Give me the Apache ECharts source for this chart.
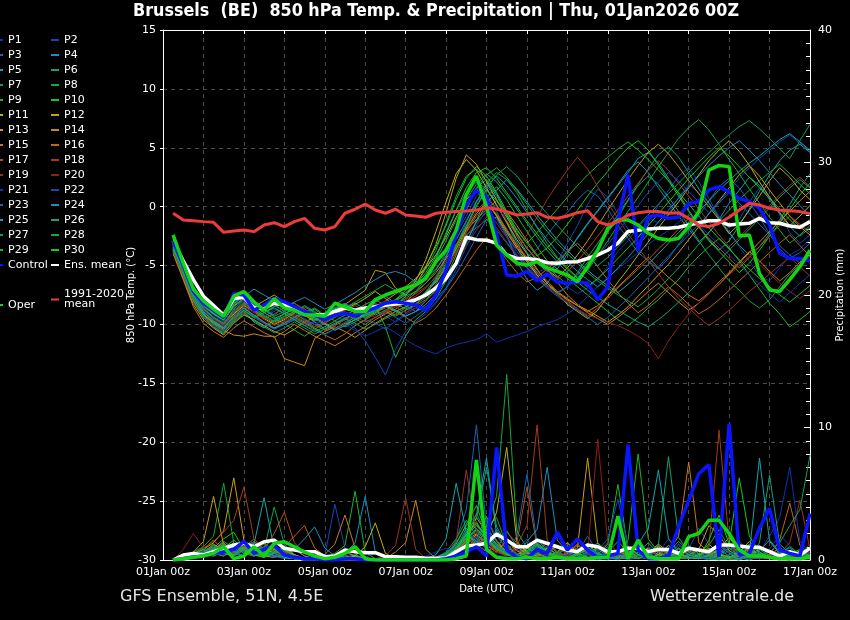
<!DOCTYPE html>
<html><head><meta charset="utf-8">
<script src="https://cdn.jsdelivr.net/npm/echarts@6/dist/echarts.min.js"></script>
<style>html,body{margin:0;padding:0;background:#000;}#c{width:850px;height:620px;}</style>
</head><body><div id="c"></div>
<script>
// forecast hours (6-hourly from 01Jan 06z to 17Jan 00z)
const hours = [6,12,18,24,30,36,42,48,54,60,66,72,78,84,90,96,102,108,114,120,126,132,138,144,150,156,162,168,174,180,186,192,198,204,210,216,222,228,234,240,246,252,258,264,270,276,282,288,294,300,306,312,318,324,330,336,342,348,354,360,366,372,378,384];
const xTickLabels = ['01Jan 00z','03Jan 00z','05Jan 00z','07Jan 00z','09Jan 00z','11Jan 00z','13Jan 00z','15Jan 00z','17Jan 00z'];
const memberNames = ['P1','P2','P3','P4','P5','P6','P7','P8','P9','P10','P11','P12','P13','P14','P15','P16','P17','P18','P19','P20','P21','P22','P23','P24','P25','P26','P27','P28','P29','P30'];

// 850 hPa temperature (°C)
const tempControl = [-2.9,-5.0,-7.2,-8.2,-8.8,-9.4,-7.4,-7.5,-8.8,-8.35,-7.8,-8.07,-8.5,-8.9,-9.2,-9.6,
 -9.2,-9.06,-9.28,-8.9,-8.6,-8.2,-8.07,-8.2,-8.35,-8.8,-7.5,-5.4,-2.3,0.14,1.4,0.8,
 -2.4,-5.8,-5.9,-5.5,-6.3,-5.7,-6.4,-6.5,-6.4,-6.5,-7.9,-6.8,-1.2,2.7,-3.7,-0.85,
 -0.71,-0.99,-0.9,0.28,0.42,1.42,1.7,1.27,0.7,0.42,-0.14,-1.56,-3.96,-4.4,-4.4,-4.6];
const tempMean = [-2.9,-4.6,-6.2,-7.6,-8.4,-9.2,-7.8,-7.7,-8.6,-8.6,-8.2,-8.35,-8.6,-9.0,-9.2,-9.2,
 -8.9,-8.6,-8.8,-8.6,-8.5,-8.35,-8.26,-8.15,-7.9,-7.5,-6.9,-6.1,-4.8,-2.6,-2.8,-2.85,
 -3.1,-4.1,-4.4,-4.4,-4.5,-4.76,-4.8,-4.7,-4.67,-4.4,-4.1,-3.7,-3.1,-2.1,-2.0,-1.9,
 -1.84,-1.84,-1.75,-1.56,-1.36,-1.2,-1.2,-1.56,-1.47,-1.41,-0.99,-1.36,-1.41,-1.64,-1.75,-1.27];
const tempOper = [-2.4,-4.8,-7.0,-8.0,-8.7,-9.3,-7.6,-7.2,-8.07,-8.8,-7.8,-8.6,-8.8,-9.2,-9.2,-9.3,
 -8.2,-8.5,-8.9,-8.9,-7.9,-7.5,-7.2,-6.9,-6.65,-6.1,-4.67,-3.7,-1.98,1.0,2.6,0.0,
 -3.25,-4.1,-4.8,-4.95,-4.67,-5.2,-5.5,-5.8,-6.37,-5.1,-3.7,-1.84,-1.13,-1.13,-1.56,-2.26,
 -2.7,-2.83,-2.7,-1.7,-0.42,3.1,3.5,3.4,-2.5,-2.4,-5.66,-7.07,-7.2,-6.2,-5.1,-3.7];
const tempClim = [-0.56,-1.13,-1.19,-1.27,-1.33,-2.18,-2.07,-1.98,-2.12,-1.55,-1.36,-1.7,-1.27,-0.99,-1.84,-1.98,
 -1.7,-0.56,-0.22,0.23,-0.28,-0.56,-0.22,-0.71,-0.79,-0.9,-0.56,-0.48,-0.42,-0.37,-0.28,-0.1,
 -0.2,-0.42,-0.71,-0.62,-0.51,-0.9,-0.99,-0.79,-0.51,-0.34,-1.27,-1.56,-1.27,-0.71,-0.51,-0.42,
 -0.42,-0.56,-0.51,-0.99,-1.56,-1.7,-1.41,-0.9,-0.28,0.28,0.14,-0.14,-0.28,-0.34,-0.42,-0.6];

const tP01 = [-3.2,-5.1,-7.4,-8.6,-9.3,-9.8,-8.4,-8.0,-8.9,-9.4,-8.7,-9.0,-9.6,-10.1,-9.8,-10.3,
 -9.9,-9.4,-9.7,-9.1,-8.8,-9.3,-9.8,-9.2,-8.6,-8.9,-8.1,-6.9,-4.8,-2.1,-0.6,0.4,
 -0.8,-2.6,-4.1,-4.9,-5.6,-5.2,-6.1,-6.8,-7.4,-6.9,-6.2,-5.1,-3.8,-2.9,-1.7,-0.9,
 -1.4,-0.6,0.8,1.9,1.2,0.3,-0.8,-2.1,-3.4,-4.6,-5.9,-6.3,-5.2,-4.1,-3.6,-2.8];
const tP02 = [-3.6,-5.6,-7.9,-9.1,-9.9,-10.4,-9.2,-8.6,-9.5,-9.0,-8.4,-8.9,-9.3,-9.0,-9.6,-9.2,
 -8.8,-9.5,-10.1,-9.6,-9.9,-10.4,-9.7,-9.1,-8.2,-7.6,-6.0,-4.2,-2.3,-0.8,0.9,1.8,
 0.6,-1.2,-3.4,-5.2,-6.3,-5.9,-4.7,-3.1,-1.6,0.2,1.5,0.8,-0.6,-1.9,-2.6,-1.3,
 0.1,1.4,2.6,3.3,2.1,0.7,-0.9,-1.8,-1.1,0.4,1.6,0.9,-0.7,-2.2,-3.1,-2.4];
const tP03 = [-3.0,-4.8,-7.0,-8.4,-9.0,-9.5,-8.1,-7.5,-8.3,-8.8,-8.2,-8.6,-9.1,-9.6,-10.2,-9.8,
 -9.3,-9.0,-9.4,-8.7,-8.3,-8.9,-9.4,-9.9,-9.3,-8.7,-7.3,-5.6,-3.4,-1.3,0.5,1.1,
 -0.4,-2.1,-3.5,-4.3,-3.6,-2.4,-1.3,-0.5,0.6,1.4,0.9,-0.2,-1.6,-2.7,-3.9,-4.6,
 -5.3,-4.4,-3.2,-2.0,-0.8,0.5,1.7,2.4,1.6,0.4,-0.9,-2.3,-3.6,-4.4,-3.9,-3.1];
const tP04 = [-3.4,-5.3,-7.6,-9.0,-9.6,-10.1,-9.0,-8.3,-8.0,-8.7,-9.2,-8.5,-8.2,-8.8,-9.4,-9.1,
 -8.6,-8.2,-8.9,-9.5,-9.0,-8.4,-8.8,-9.3,-8.9,-8.0,-6.6,-5.0,-3.6,-2.4,-1.8,-1.1,
 -0.9,-2.4,-4.6,-6.2,-7.1,-6.5,-5.3,-4.0,-2.6,-1.4,-0.3,0.8,1.9,3.1,3.8,2.9,
 1.6,0.4,-0.8,-1.9,-3.0,-2.2,-1.1,0.3,1.4,2.5,1.8,0.6,-0.6,-1.7,-2.5,-1.8];
const tP05 = [-3.8,-5.9,-8.1,-9.4,-10.2,-10.8,-9.6,-8.9,-9.8,-10.3,-9.7,-9.1,-8.7,-9.2,-9.8,-10.4,
 -10.0,-9.5,-9.0,-8.6,-8.1,-7.6,-8.2,-8.7,-8.3,-7.4,-6.2,-4.3,-2.1,0.2,1.6,2.3,
 1.1,-0.7,-2.5,-3.9,-4.8,-5.5,-4.9,-3.8,-2.7,-1.5,-0.4,0.7,1.8,2.9,4.1,4.6,
 3.7,2.4,1.1,-0.3,-1.6,-2.8,-3.7,-2.9,-1.6,-0.2,1.3,2.7,3.9,4.8,5.3,4.6];
const tP06 = [-3.1,-4.9,-7.2,-8.7,-9.5,-10.0,-8.7,-7.9,-8.6,-9.2,-9.7,-9.3,-8.9,-8.4,-8.9,-9.5,
 -9.1,-8.6,-8.2,-8.7,-9.2,-8.8,-8.3,-7.8,-7.2,-6.1,-4.4,-2.2,-0.3,1.2,2.1,1.5,
 0.2,-1.4,-3.0,-4.6,-5.8,-6.7,-7.3,-6.8,-5.6,-4.3,-3.1,-1.9,-0.7,0.6,1.9,3.2,
 4.4,5.1,4.2,2.9,1.5,0.3,-1.0,-2.2,-3.3,-4.1,-3.4,-2.3,-1.1,0.2,1.6,2.8];
const tP07 = [-2.8,-4.6,-6.8,-8.2,-9.1,-9.7,-8.3,-7.3,-8.1,-8.6,-9.4,-10.0,-9.6,-9.0,-8.6,-9.2,
 -9.7,-10.2,-9.8,-9.2,-8.7,-8.3,-8.0,-7.4,-6.6,-5.3,-3.7,-1.4,0.9,2.6,3.2,2.2,
 0.9,-0.6,-2.2,-3.6,-4.4,-5.1,-5.9,-6.6,-5.8,-4.7,-3.5,-2.2,-0.9,0.5,1.8,2.6,
 1.9,0.8,-0.4,-1.6,-2.9,-4.1,-5.2,-6.3,-7.1,-8.0,-8.6,-7.9,-6.8,-5.7,-4.9,-4.2];
const tP08 = [-3.5,-5.4,-7.7,-9.3,-10.0,-10.6,-9.8,-9.1,-9.7,-10.2,-9.6,-9.9,-10.5,-11.0,-10.4,-9.9,
 -9.4,-9.0,-9.5,-10.0,-9.4,-8.9,-9.3,-8.8,-8.4,-7.9,-7.1,-6.0,-4.1,-1.9,0.4,2.0,
 2.9,2.3,1.2,-0.3,-1.8,-3.1,-4.3,-5.2,-6.0,-5.4,-4.2,-2.9,-1.6,-0.4,0.8,2.1,
 3.4,4.6,5.8,6.7,7.4,6.5,5.3,4.0,2.8,1.5,0.3,-0.9,-2.0,-3.1,-2.4,-1.6];
const tP09 = [-3.3,-5.2,-7.5,-8.9,-9.7,-10.2,-9.1,-8.5,-9.3,-8.8,-8.3,-8.9,-9.4,-9.8,-10.3,-10.8,
 -10.4,-9.9,-9.4,-8.8,-8.4,-10.2,-12.8,-11.0,-9.6,-8.9,-7.8,-6.3,-4.9,-3.1,-1.2,0.8,
 1.7,0.6,-0.8,-2.1,-3.4,-4.6,-5.3,-6.1,-6.8,-7.5,-8.2,-8.9,-9.6,-10.1,-9.4,-8.6,
 -7.9,-7.0,-6.2,-5.1,-4.2,-3.4,-2.7,-3.5,-4.6,-5.8,-7.0,-8.2,-9.1,-10.2,-9.6,-8.9];
const tP10 = [-3.0,-4.7,-6.9,-8.3,-9.0,-9.4,-8.0,-7.6,-8.4,-9.0,-8.5,-8.0,-8.6,-9.1,-8.7,-9.3,
 -8.9,-8.4,-8.9,-9.4,-9.0,-8.5,-7.9,-7.1,-6.2,-5.0,-3.4,-1.6,0.6,2.4,3.4,2.6,
 1.2,-0.4,-2.0,-3.1,-4.2,-3.5,-2.6,-1.5,-0.3,0.9,2.0,3.0,4.1,5.0,5.6,4.8,
 3.5,2.2,0.9,-0.4,-1.7,-2.9,-3.8,-4.7,-5.6,-4.8,-3.7,-2.5,-1.4,-0.2,1.0,2.0];
const tP11 = [-3.7,-5.8,-8.0,-9.2,-9.8,-10.3,-9.1,-8.4,-8.9,-9.5,-10.0,-9.6,-9.0,-8.7,-9.3,-9.7,
 -9.2,-8.7,-8.3,-7.8,-7.2,-7.8,-8.4,-7.6,-6.3,-4.5,-2.1,0.4,2.8,4.0,3.1,1.6,
 0.1,-1.3,-2.8,-4.0,-5.3,-6.5,-7.4,-8.3,-8.9,-9.5,-8.8,-7.6,-6.4,-5.3,-4.1,-3.0,
 -1.8,-0.7,0.4,1.6,2.7,3.9,4.8,5.6,4.7,3.5,2.1,0.8,-0.5,-1.6,-0.8,0.1];
const tP12 = [-3.3,-5.0,-7.1,-8.5,-9.1,-9.6,-8.4,-7.8,-8.5,-8.0,-7.5,-8.1,-8.7,-9.2,-9.7,-9.3,
 -8.8,-8.3,-7.7,-7.1,-5.4,-5.6,-6.9,-7.5,-6.7,-5.1,-3.2,-0.5,2.4,4.4,3.6,2.1,
 0.6,-0.9,-2.3,-3.5,-4.6,-5.4,-6.0,-5.2,-4.1,-2.9,-1.6,-0.3,1.0,2.3,3.5,4.6,
 5.3,4.5,3.4,2.2,1.1,0.0,-1.1,-2.3,-1.5,-0.3,0.9,2.2,3.3,2.5,1.4,0.6];
const tP13 = [-3.9,-6.1,-8.3,-9.6,-10.3,-10.9,-9.9,-9.2,-9.6,-10.1,-10.6,-10.9,-10.4,-9.8,-9.4,-9.9,
 -10.4,-10.0,-9.6,-9.1,-8.6,-8.0,-7.4,-6.8,-6.1,-5.2,-4.1,-2.6,-0.9,0.6,1.3,0.4,
 -0.8,-2.2,-3.5,-4.7,-5.8,-6.7,-7.3,-7.9,-8.4,-8.8,-9.3,-9.8,-9.2,-8.5,-7.6,-6.7,
 -5.8,-4.9,-3.9,-2.8,-1.7,-0.6,0.5,1.6,2.7,3.5,2.6,1.4,0.3,-0.8,-1.7,-2.4];
const tP14 = [-3.5,-5.5,-7.8,-9.2,-9.9,-10.5,-10.9,-11.0,-10.8,-11.0,-11.0,-12.9,-13.2,-13.5,-11.2,-10.6,
 -10.2,-10.6,-11.1,-10.5,-9.9,-9.4,-8.9,-8.5,-8.0,-7.3,-6.4,-5.2,-3.6,-1.9,-0.6,0.3,
 -0.7,-2.0,-3.3,-4.5,-5.6,-6.5,-7.2,-7.8,-8.4,-9.0,-9.5,-10.0,-9.4,-8.7,-8.0,-7.2,
 -6.5,-7.3,-8.1,-8.8,-8.2,-7.4,-6.6,-5.7,-4.8,-3.9,-3.0,-2.1,-1.2,-0.4,0.5,1.3];
const tP15 = [-4.0,-6.2,-8.5,-9.9,-10.6,-11.1,-10.3,-9.7,-10.2,-10.7,-11.1,-10.6,-10.0,-10.5,-11.0,-11.4,
 -11.8,-11.3,-10.7,-10.2,-9.6,-9.1,-8.7,-8.1,-7.3,-6.5,-5.6,-4.4,-3.2,-2.0,-1.1,-0.2,
 0.5,-0.4,-1.6,-2.9,-4.1,-5.3,-6.4,-7.5,-8.3,-8.9,-8.4,-7.6,-6.8,-6.0,-5.1,-4.3,
 -5.2,-6.0,-6.7,-7.5,-8.0,-7.3,-6.4,-5.6,-4.7,-3.8,-4.6,-5.5,-6.3,-5.6,-4.7,-3.9];
const tP16 = [-3.6,-5.6,-7.8,-9.1,-9.8,-10.2,-9.4,-8.7,-9.2,-9.8,-10.3,-10.0,-9.5,-9.9,-10.4,-10.9,
 -11.3,-10.8,-10.1,-9.6,-9.1,-8.5,-8.9,-9.4,-9.9,-9.4,-8.6,-7.5,-6.3,-5.0,-3.7,-2.6,
 -3.4,-4.5,-5.6,-6.4,-6.0,-5.3,-4.6,-3.8,-3.1,-4.0,-5.1,-6.2,-7.3,-8.2,-9.0,-8.4,
 -7.6,-6.8,-7.5,-8.3,-9.1,-8.6,-7.9,-7.1,-6.3,-5.5,-4.7,-3.9,-3.1,-2.4,-3.3,-4.2];
const tP17 = [-3.2,-5.0,-7.2,-8.6,-9.4,-9.9,-8.8,-8.1,-8.8,-9.4,-9.9,-9.5,-9.1,-9.6,-10.0,-10.5,
 -10.1,-9.6,-9.1,-8.6,-8.2,-8.7,-9.2,-8.8,-8.3,-7.7,-6.8,-5.5,-3.9,-2.2,-0.8,0.2,
 -0.6,-1.9,-3.2,-4.3,-5.4,-6.3,-7.2,-8.0,-8.7,-9.3,-8.6,-7.8,-6.9,-6.1,-5.3,-4.5,
 -3.6,-2.8,-1.9,-1.0,-1.8,-2.7,-3.5,-4.4,-5.2,-4.3,-3.4,-2.5,-1.6,-0.8,-1.5,-2.2];
const tP18 = [-3.4,-5.3,-7.5,-8.8,-9.5,-10.0,-9.0,-8.3,-8.9,-9.5,-9.1,-8.6,-8.2,-8.7,-9.2,-9.7,
 -9.3,-8.8,-8.4,-8.9,-9.4,-9.0,-8.5,-8.1,-7.6,-6.9,-5.9,-4.6,-3.2,-1.7,-0.4,0.6,
 0.0,-1.2,-2.4,-3.5,-4.5,-5.4,-6.2,-5.5,-4.6,-3.6,-2.5,-1.4,-0.3,0.9,2.0,3.1,
 3.9,3.1,2.0,0.9,-0.2,-1.3,-2.4,-3.4,-2.6,-1.7,-0.8,0.1,1.0,1.8,2.5,1.7];
const tP19 = [-3.8,-5.9,-8.1,-9.4,-10.1,-10.6,-9.6,-8.9,-9.4,-9.9,-10.3,-9.8,-9.3,-9.7,-10.2,-9.8,
 -9.3,-8.9,-9.3,-9.8,-9.4,-8.9,-8.4,-7.9,-7.4,-6.8,-6.0,-5.0,-3.8,-2.5,-1.3,-0.5,
 -1.4,-2.6,-3.6,-2.4,-0.9,0.6,1.9,3.1,4.2,3.2,1.7,0.3,-1.0,-2.3,-3.5,-4.6,
 -5.7,-6.8,-7.8,-8.6,-9.4,-10.1,-9.5,-8.8,-8.0,-7.2,-6.5,-5.7,-5.0,-4.3,-5.1,-5.9];
const tP20 = [-3.5,-5.4,-7.6,-8.9,-9.6,-10.1,-9.2,-8.5,-9.0,-9.6,-10.1,-9.7,-9.2,-8.8,-9.3,-9.8,
 -10.3,-9.8,-9.3,-8.8,-8.4,-8.0,-8.5,-9.0,-8.6,-8.0,-7.2,-6.1,-4.7,-3.3,-2.0,-0.9,
 -1.8,-3.0,-4.1,-5.1,-6.0,-6.8,-7.5,-8.1,-8.7,-9.2,-9.5,-9.8,-10.1,-10.5,-11.0,-11.6,
 -12.9,-11.4,-10.2,-9.1,-8.2,-7.4,-6.6,-5.8,-5.0,-4.2,-4.9,-5.7,-6.5,-7.2,-7.8,-7.1];
const tP21 = [-3.3,-5.2,-7.4,-8.8,-9.6,-10.2,-9.3,-8.7,-9.3,-9.9,-10.4,-10.0,-9.5,-10.0,-10.5,-10.9,
 -10.4,-10.0,-10.5,-11.0,-10.6,-10.2,-10.7,-11.3,-11.8,-12.2,-12.5,-12.0,-11.7,-11.5,-11.3,-10.8,
 -11.5,-11.2,-10.9,-10.6,-10.2,-9.9,-9.6,-9.1,-8.5,-7.6,-6.8,-6.0,-5.3,-4.6,-3.9,-3.2,
 -2.6,-2.0,-1.3,-0.7,-1.5,-2.4,-3.2,-4.1,-4.9,-5.8,-6.6,-7.4,-8.1,-7.3,-6.5,-5.8];
const tP22 = [-3.1,-4.9,-7.1,-8.5,-9.2,-9.7,-8.6,-8.0,-8.7,-9.3,-8.9,-8.4,-8.9,-9.5,-10.0,-9.6,
 -9.2,-9.7,-10.3,-11.4,-12.8,-14.3,-12.1,-10.6,-9.8,-9.1,-8.2,-7.0,-5.3,-3.4,-1.6,-0.3,
 -1.1,-2.5,-3.8,-4.9,-5.9,-6.7,-7.4,-6.8,-6.0,-5.1,-4.2,-3.2,-2.1,-1.0,0.1,1.2,
 2.1,2.9,2.2,1.3,0.4,-0.5,0.4,1.4,2.4,3.3,4.1,4.8,5.5,6.1,5.4,4.7];
const tP23 = [-3.6,-5.7,-7.9,-9.3,-10.0,-10.5,-9.5,-8.8,-9.3,-9.9,-10.4,-10.0,-9.6,-10.1,-9.7,-9.2,
 -8.7,-8.2,-8.7,-9.2,-8.8,-8.3,-7.9,-8.4,-8.9,-8.5,-7.8,-6.9,-5.7,-4.2,-2.6,-1.1,
 -2.0,-3.1,-4.2,-5.2,-6.1,-6.9,-7.6,-8.2,-8.8,-9.4,-10.0,-9.4,-8.6,-7.8,-6.9,-6.0,
 -5.1,-4.2,-3.3,-2.4,-1.5,-0.6,0.3,1.2,0.3,-0.6,-1.5,-2.4,-3.3,-4.1,-4.8,-4.2];
const tP24 = [-3.0,-4.8,-6.9,-8.3,-9.0,-9.4,-8.3,-7.6,-7.0,-7.5,-8.0,-8.5,-8.1,-7.7,-8.2,-8.7,
 -8.3,-7.8,-7.3,-6.7,-6.2,-5.7,-5.5,-5.8,-6.4,-6.0,-5.3,-4.2,-2.8,-1.2,0.4,1.7,
 2.6,1.8,0.7,-0.5,-1.7,-2.8,-3.8,-4.7,-5.5,-6.2,-6.8,-6.1,-5.2,-4.3,-3.3,-2.3,
 -1.3,-0.3,0.7,1.7,2.6,3.5,4.3,5.0,5.6,4.8,3.9,2.9,1.9,1.0,0.1,-0.8];
const tP25 = [-3.4,-5.3,-7.5,-8.9,-9.7,-10.3,-9.3,-8.6,-9.2,-9.8,-10.3,-9.9,-9.4,-9.0,-9.5,-10.0,
 -10.5,-10.1,-9.6,-9.2,-8.7,-8.3,-8.8,-9.3,-8.9,-8.3,-7.4,-6.2,-4.7,-3.0,-1.3,0.2,
 1.4,2.3,1.5,0.4,-0.7,-1.8,-2.8,-3.7,-4.6,-5.4,-6.1,-6.7,-7.3,-6.6,-5.8,-4.9,
 -4.0,-3.1,-2.2,-1.3,-0.4,0.5,1.4,2.2,3.0,3.7,4.3,5.0,5.7,6.2,5.5,4.8];
const tP26 = [-2.9,-4.6,-6.7,-8.1,-8.9,-9.4,-8.2,-7.5,-8.2,-8.8,-9.3,-8.9,-8.4,-8.9,-9.4,-9.0,
 -8.6,-9.1,-9.6,-9.2,-8.8,-8.4,-8.0,-7.5,-6.8,-5.8,-4.5,-2.9,-1.1,0.6,1.9,2.8,
 2.1,1.0,-0.2,-1.4,-2.6,-3.7,-4.7,-5.6,-6.4,-7.1,-7.7,-8.3,-8.8,-9.3,-9.8,-10.2,
 -9.6,-8.9,-8.1,-7.3,-6.4,-5.5,-4.6,-3.7,-2.8,-1.9,-1.0,-0.1,0.8,1.6,2.3,1.6];
const tP27 = [-3.7,-5.8,-8.0,-9.4,-10.2,-10.7,-9.7,-9.0,-9.6,-10.2,-10.7,-10.3,-9.8,-10.3,-10.8,-10.4,
 -9.9,-9.5,-9.9,-10.4,-10.0,-9.5,-9.1,-8.6,-8.0,-7.2,-6.1,-4.8,-3.3,-1.6,0.1,1.5,
 2.7,3.4,2.6,1.5,0.4,-0.6,-1.6,-2.5,-3.4,-4.2,-5.0,-4.3,-3.4,-2.5,-1.6,-0.7,
 0.2,1.1,2.0,2.9,3.8,4.6,5.4,6.1,6.8,7.3,6.6,5.8,4.9,4.1,5.6,7.0];
const tP28 = [-3.2,-5.0,-7.3,-8.7,-9.4,-9.9,-8.9,-8.2,-8.8,-9.3,-9.8,-9.4,-8.9,-8.5,-9.0,-9.5,
 -9.1,-8.6,-8.1,-7.6,-7.1,-6.6,-7.1,-7.6,-7.2,-6.5,-5.4,-3.9,-2.2,-0.3,1.5,2.7,
 3.3,2.5,1.4,0.2,-1.0,-2.1,-3.1,-4.0,-4.8,-5.6,-6.3,-6.9,-7.5,-8.0,-8.5,-7.8,
 -7.0,-6.1,-5.2,-4.2,-3.2,-2.2,-1.2,-0.3,0.6,1.4,2.2,2.9,3.6,2.8,1.9,1.1];
const tP29 = [-3.5,-5.5,-7.7,-9.1,-9.8,-10.4,-9.5,-8.8,-9.4,-9.0,-8.6,-9.1,-9.6,-10.1,-10.6,-10.2,
 -9.7,-9.2,-8.8,-8.3,-7.9,-8.4,-8.9,-8.5,-8.0,-7.3,-6.3,-5.0,-3.4,-1.7,0.0,1.4,
 0.5,-0.7,-1.9,-3.1,-2.2,-1.2,-0.2,0.8,1.8,2.7,3.5,4.2,4.9,5.5,4.8,4.0,
 3.1,2.2,1.2,0.2,-0.8,-1.8,-2.7,-3.6,-4.5,-5.3,-6.1,-6.8,-7.5,-8.1,-7.4,-6.7];
const tP30 = [-3.0,-4.7,-6.9,-8.4,-9.1,-9.6,-8.5,-7.8,-8.4,-9.0,-9.5,-9.1,-8.6,-9.1,-9.6,-9.2,
 -8.7,-8.3,-8.8,-9.3,-8.9,-8.4,-7.9,-7.3,-6.6,-5.6,-4.2,-2.4,-0.3,1.6,2.9,3.3,
 2.4,1.2,0.0,-1.2,-2.3,-3.4,-4.4,-5.3,-6.1,-6.8,-6.1,-5.3,-4.4,-3.5,-2.6,-1.6,
 -0.6,0.4,1.4,2.4,3.3,4.2,5.0,4.3,3.4,2.5,1.6,0.7,-0.2,-1.1,-1.9,-1.1];

// 6-hourly precipitation (mm)
const precControl = [0,0.1,0.2,0.3,0.5,0.6,0.8,1.4,0.5,0.8,1.1,0.4,0.2,0.1,0.1,0,
 0,0.1,0.1,0,0,0,0,0,0,0,0,0.1,0.3,0.6,1.0,0.3,
 8.5,0.75,0.2,0.1,0.8,0.5,2.1,0.75,1.6,0.75,0.2,0.3,0.5,8.7,0.75,0.1,
 0.1,0.3,2.5,4.5,6.5,7.2,0.25,10.3,0.4,0.5,2.4,3.9,0.75,0.5,0.3,3.5];
const precMean = [0,0.38,0.5,0.38,0.63,0.88,1.13,1.26,1.0,1.38,1.5,0.88,0.75,0.63,0.63,0.25,
 0.3,0.75,0.63,0.55,0.55,0.25,0.25,0.2,0.2,0.13,0.13,0.13,0.63,1.06,1.13,1.26,
 1.96,1.5,1.0,1.0,1.5,1.26,1.0,0.75,0.63,1.13,1.0,0.63,0.63,0.88,0.88,0.63,
 0.8,0.8,0.5,0.88,0.75,0.63,1.13,1.13,1.06,0.96,0.96,0.63,0.3,0.63,0.38,0.88];
const precOper = [0,0.1,0.2,0.3,0.5,1.0,0.1,0.3,1.0,0.3,1.26,1.38,1.0,0.6,0.3,0.1,
 0.2,0.5,1.0,0.1,0,0,0,0,0,0,0,0,0.1,0.3,7.55,0.8,
 0.2,0.1,0.1,0.2,0.1,0.1,0.2,0.1,0.1,0.1,0.2,0.2,3.3,0.1,1.5,0.2,
 0.1,0.1,0.1,1.76,2.0,3.0,3.0,2.0,0.75,0.3,0.3,0.2,0.1,0.1,0.1,0.2];

const rP01 = [0,0.1,0.3,0.6,0.9,0.4,1.2,0.8,0.3,0.5,0.9,0.4,0.2,0.1,0,0, 0.2,0.4,0.1,0,0,0,0,0,0.1,0,0,0.2,0.6,1.4,2.2,1.6, 0.8,1.2,0.5,0.3,1.1,0.6,0.2,0.4,0.9,0.3,0.1,0,0.2,0.7,0.4,0.2, 0.5,1.6,0.8,0.3,0.1,0.4,1.3,0.6,0.2,0,0.3,0.8,1.9,1.1,0.4,0.2];
const rP02 = [0,0.2,0.4,0.3,0.7,1.1,0.5,0.9,1.4,0.6,0.3,0.8,0.2,0,0.1,0.3, 4.2,0.9,0.2,0,0,0.1,0,0,0,0,0.1,0.4,1.1,0.7,1.9,2.6, 1.3,0.5,0.8,1.6,0.4,0.2,0.1,0.6,1.2,0.5,0.2,0.9,0.3,0,0.2,1.0, 0.6,0.2,0.1,0.8,2.4,1.2,0.4,0.1,0,0.3,0.9,0.5,0.1,0,0.4,1.2];
const rP03 = [0,0.1,0.2,0.5,0.3,0.8,1.3,0.6,0.4,1.0,0.7,0.3,0.1,0,0,0.2, 0.1,0,0.3,0.1,0,0,0,0.2,0,0,0,0.3,1.5,3.8,10.2,2.4, 1.1,0.6,0.3,0.9,1.5,0.7,0.2,0.1,0.5,1.8,0.6,0.2,0,0.3,0.6,0.2, 0.1,0.4,1.2,0.5,0.2,0,0.3,0.7,1.4,0.6,0.2,0.1,0.5,0.9,0.3,0.1];
const rP04 = [0,0.2,0.5,0.9,0.6,0.3,0.8,1.5,0.7,0.4,0.2,0.5,0.9,0.3,0.1,0, 0.2,0.5,1.3,4.8,0.6,0.1,0,0,0,0.1,0,0.2,0.8,2.1,1.4,0.9, 2.3,1.0,0.4,0.2,0.6,1.3,0.5,0.2,0.1,0.4,0.8,0.3,0.1,0.5,1.1,0.4, 0.2,0.1,0.6,1.0,0.4,0.1,0,0.2,0.5,0.9,0.3,0.1,0,0.2,0.6,0.3];
const rP05 = [0,0.1,0.3,0.2,0.8,1.4,0.9,0.5,1.2,4.7,0.8,0.3,0.1,0,0,0.1, 0,0.2,0,0,0.1,0,0,0,0,0,0.1,0.5,1.3,2.6,3.4,7.7, 1.9,0.8,0.3,1.1,0.6,0.2,0.4,0.9,0.3,0.1,0,0.2,0.6,0.3,0.1,0.4, 1.0,0.5,0.2,0.1,0.4,0.8,0.3,0.1,0,0.3,0.7,1.5,0.6,0.2,0.1,0.3];
const rP06 = [0,0.1,0.2,0.4,0.3,0.6,0.4,1.0,0.5,0.3,0.8,0.4,0.2,0,0,0, 0.1,0,0,0.2,0,0,0,0.1,0,0,0,0.4,0.9,2.2,3.1,7.0, 2.5,1.2,0.4,0.2,0.7,1.4,0.6,0.3,0.1,0.5,0.9,0.4,0.2,0.1,0.6,1.3, 0.5,0.2,0.1,0.4,0.8,0.3,0.1,0,0.2,0.5,0.2,0.1,0.3,0.7,0.3,0.1];
const rP07 = [0,0.2,0.4,0.7,1.1,0.6,0.3,0.9,1.6,0.8,4.0,1.2,0.4,0.1,0,0.2, 0.4,0.1,0,0,0.1,0,0,0,0.1,0,0,0.3,0.7,1.8,2.9,1.5, 0.8,2.2,1.0,0.4,0.2,0.6,1.1,0.5,0.2,0.7,0.3,0.1,0.4,0.9,0.4,0.2, 0.1,0.3,0.8,0.4,0.2,1.1,2.3,0.9,0.3,0.1,0.5,0.2,0.1,0,0.3,0.6];
const rP08 = [0,0.3,0.6,1.0,1.8,5.8,1.3,0.6,0.4,0.9,0.5,0.2,0.1,0,0.1,0, 0,0.2,0.4,0.1,0,0,0,0,0,0,0.2,0.6,1.6,3.0,1.8,2.5, 3.2,1.1,0.5,0.3,0.9,0.4,0.2,0.1,0.6,1.2,0.5,0.2,0.1,0.3,0.8,0.4, 0.2,0.6,1.4,0.7,0.3,0.1,0,0.2,0.5,0.3,0.1,0.4,0.9,0.5,0.2,0.1];
const rP09 = [0,0.1,0.2,0.6,0.4,0.9,0.5,0.3,0.7,1.3,0.6,0.3,0.1,0,0,0.2, 0.5,1.1,5.2,0.6,0.1,0,0,0,0,0.1,0,0.2,0.9,2.4,1.6,3.3, 1.4,0.6,0.3,0.8,1.6,0.7,0.3,0.1,0.4,0.9,0.4,1.2,5.7,0.8,0.3,0.1, 0.4,0.9,0.4,0.2,0.1,0.5,1.1,0.5,0.2,0,0.3,0.7,0.3,0.1,0,0.2];
const rP10 = [0,0.2,0.5,0.3,0.9,1.6,2.1,0.8,0.4,0.6,1.1,0.5,0.2,0.1,0,0, 0.1,0.3,0.1,0,0,0,0,0.1,0,0,0.1,0.5,1.2,2.7,4.1,2.0, 1.0,0.5,1.3,0.6,0.2,0.1,0.5,1.0,0.4,0.2,0.1,0.6,1.4,0.6,0.2,0.1, 0.3,0.7,0.3,0.1,0.5,1.2,0.5,0.2,0.1,0.4,0.8,0.3,0.1,0,0.2,0.5];
const rP11 = [0,0.1,0.3,0.5,1.2,0.7,0.4,1.0,0.6,0.3,0.2,0.7,0.4,0.1,0,0.1, 0.2,0.6,0.3,1.0,2.8,0.5,0.1,0,0,0,0.1,0.3,0.8,1.9,2.6,1.8, 3.6,8.5,1.4,0.6,0.3,0.9,0.4,0.2,0.1,0.5,1.0,0.4,0.2,0.7,0.3,0.1, 0.4,1.1,0.5,0.2,0.1,0.3,0.8,1.7,0.7,0.3,0.1,0.4,0.9,0.4,0.2,0.1];
const rP12 = [0,0.2,0.6,1.4,4.8,1.1,0.5,0.8,0.3,0.6,1.0,0.4,0.2,0,0.1,0, 0,0.1,0.3,0.1,0,0,0.1,0,0,0,0,0.2,0.6,1.5,3.2,2.1, 1.2,0.7,0.3,0.9,0.5,0.2,0.6,1.3,0.5,0.2,0.1,0.4,0.8,0.3,0.1,0.5, 1.2,0.6,0.2,0.1,0.4,0.9,0.4,0.2,0.6,1.4,0.6,0.2,0.1,0.3,0.7,0.3];
const rP13 = [0,0.1,0.4,0.8,1.3,2.2,6.2,1.5,0.7,0.4,0.8,0.3,0.1,0,0,0.1, 0.3,0.1,0,0,0.1,0,0,0,0,0.1,0,0.3,0.7,1.4,2.0,1.1, 0.6,1.5,0.7,0.3,0.2,0.5,1.1,0.6,0.9,7.7,1.2,0.5,0.2,0.1,0.4,0.9, 0.4,0.2,0.1,0.3,0.8,2.6,1.9,0.7,0.3,0.1,0.4,0.2,0.1,0.3,0.6,0.2];
const rP14 = [0,0.2,0.3,0.6,0.9,0.5,1.1,0.7,0.4,0.2,0.6,0.9,0.4,0.1,0,0, 0.1,0.2,0,0,0,0.1,0.6,1.3,4.5,0.8,0.1,0.2,0.5,1.2,1.9,1.4, 0.7,0.3,1.0,0.5,0.2,0.1,0.6,1.3,0.5,0.2,0.1,0.3,0.7,0.3,0.1,0.4, 1.0,0.5,0.2,0.1,0.3,0.6,0.3,0.1,0.4,0.9,0.4,0.2,0.1,0.3,0.2,0.1];
const rP15 = [0,0.1,0.3,0.5,0.8,1.3,0.6,0.3,0.9,0.5,0.2,0.4,0.8,0.3,0.1,0.4, 1.2,3.4,0.9,0.2,0,0,0,0,0.1,0,0,0.2,0.8,1.6,1.1,2.3, 1.5,0.6,0.3,1.0,0.4,0.2,0.1,0.5,1.1,0.5,0.2,0.1,0.4,0.9,0.4,0.2, 0.1,0.6,1.8,7.4,1.3,0.5,0.2,0.1,0.4,0.8,0.3,0.1,0.2,0.6,0.3,0.1];
const rP16 = [0,0.2,0.4,0.8,1.5,0.7,0.4,1.2,0.6,0.3,0.5,1.0,1.8,2.6,0.9,0.3, 0.1,0,0,0.1,0,0,0,0,0,0,0.1,0.4,0.9,1.7,1.2,0.6, 1.1,0.5,0.2,0.6,1.3,0.6,0.3,0.1,0.4,0.9,0.4,0.2,0.1,0.5,1.0,0.5, 0.2,0.1,0.3,0.7,0.3,0.1,0.5,1.1,0.5,0.2,0.1,0.4,1.5,4.3,1.1,0.4];
const rP17 = [0,0.1,0.2,0.4,0.7,1.2,0.6,0.9,1.4,0.8,2.0,3.6,1.3,0.5,0.2,0, 0.1,0,0,0,0.1,0,0,0,0,0,0,0.2,0.7,1.3,0.9,1.8, 0.9,2.1,1.3,5.5,1.0,0.4,0.2,0.6,1.2,0.5,0.2,0.1,0.3,0.8,0.4,0.2, 0.1,0.4,0.9,0.4,0.2,0.1,0.6,1.3,0.5,0.2,0.1,0.3,0.7,0.3,0.1,0.2];
const rP18 = [0,0.2,0.5,0.9,1.4,2.1,3.0,5.5,1.6,0.7,0.3,0.6,0.2,0,0,0, 0.2,0.4,0.1,0,0,0,0,0,0,0,0.1,0.3,0.8,1.6,2.2,1.3, 0.7,0.4,1.1,2.6,10.2,1.5,0.6,0.3,0.8,0.4,0.2,0.1,0.5,1.0,0.4,0.2, 0.1,0.3,0.8,0.4,0.2,1.0,9.8,1.4,0.5,0.2,0.1,0.4,0.9,0.4,0.1,0.1];
const rP19 = [0,0.1,0.3,0.6,0.4,0.9,0.5,0.3,0.7,1.2,0.6,0.3,0.1,0,0,0, 0,0.1,0,0,0.1,0.3,1.1,4.7,0.8,0.1,0,0.3,1.4,6.8,2.0,1.2, 0.6,0.3,0.8,0.4,0.2,0.5,1.0,0.4,0.2,0.1,0.6,1.3,0.6,0.2,0.1,0.3, 0.7,0.3,0.1,0.4,0.9,0.4,0.2,0.1,0.3,0.6,0.2,0.1,0.5,1.3,4.5,0.8];
const rP20 = [0,0.8,2.0,0.9,0.5,0.3,0.8,1.3,0.6,0.3,0.5,0.2,0.1,0,0,0, 0.1,0,0,0,0,0,0,0.1,0,0,0,0.2,0.6,1.1,1.8,0.9, 0.5,1.2,0.5,0.2,0.6,1.1,0.4,0.2,0.1,0.5,9.1,1.3,0.5,0.2,0.1,0.4, 0.8,0.4,0.2,0.1,0.3,0.7,0.3,0.1,0.2,0.5,1.1,0.5,0.2,0.1,0.3,0.6];
const rP21 = [0,0.1,0.2,0.3,0.6,0.4,0.8,0.5,0.3,0.7,0.4,0.2,0.1,0,0,0, 0,0.1,0,0,0,0,0,0,0.1,0.3,0.6,0.9,0.5,0.8,1.2,0.7, 0.4,0.2,0.1,0.3,0.6,0.3,0.1,0,0.2,0.5,0.2,0.1,0.4,0.8,0.3,0.1, 0.2,0.5,1.1,0.5,0.2,0.1,0.4,0.9,0.4,0.2,0.6,1.8,3.2,7.0,1.4,0.5];
const rP22 = [0,0.2,0.4,0.7,0.4,1.0,0.6,0.3,0.8,0.5,0.2,0.4,0.1,0,0,0.1, 0.3,0.1,0,0.2,0.5,0.1,0,0,0,0,0.1,0.4,1.0,2.2,1.5,3.1, 1.8,0.8,0.3,0.6,1.2,0.5,0.2,0.4,0.9,0.4,0.7,1.6,4.6,1.0,0.4,0.2, 0.1,0.4,0.8,0.3,0.1,0.5,1.2,0.6,0.2,0.1,0.3,0.7,0.3,0.1,0.2,0.5];
const rP23 = [0,0.1,0.3,0.5,0.9,0.5,0.3,0.7,1.1,0.6,0.3,0.1,0.2,0,0,0, 0.1,0,0,0,0,0,0,0,0,0.1,0,0.3,0.9,1.8,2.7,1.9, 1.0,0.5,1.8,6.5,1.3,0.6,0.3,0.1,0.5,1.0,0.4,0.2,0.1,0.6,1.2,0.5, 0.2,0.1,0.4,0.8,0.3,0.1,0.5,1.1,0.5,0.2,0.1,0.3,0.6,0.2,0.1,0.3];
const rP24 = [0,0.2,0.4,0.3,0.7,1.1,0.6,0.9,0.4,0.2,0.6,1.0,0.8,1.6,2.5,0.9, 0.3,0.1,0,0,0,0,0,0,0,0,0.2,0.5,1.1,1.9,1.3,2.2, 1.1,0.6,0.3,1.4,2.3,7.0,1.5,0.6,0.3,0.1,0.5,1.0,0.4,0.2,0.1,0.4, 0.9,0.4,0.2,0.1,0.3,0.7,0.3,0.1,0.6,1.2,0.5,0.2,0.1,0.3,0.6,0.3];
const rP25 = [0,0.1,0.3,0.6,1.0,0.5,0.3,0.8,1.3,0.7,0.3,0.2,0.1,0,0,0, 0.1,0.2,0,0,0,0,0,0,0,0.1,0.4,1.6,5.8,2.1,1.2,1.7, 0.8,0.4,0.2,0.6,1.1,0.5,0.2,0.1,0.4,0.9,0.4,0.2,0.1,0.5,1.2,2.4, 6.8,1.6,0.6,0.2,0.1,0.4,0.8,0.3,0.1,0.5,7.7,1.4,0.5,0.2,0.1,0.3];
const rP26 = [0,0.2,0.4,0.8,0.5,0.3,0.9,1.4,0.7,0.3,0.5,0.2,0.1,0,0,0.1, 0,0,0.1,0,0,0,0,0,0,0,0.1,0.3,0.7,1.5,2.4,1.6, 0.9,0.4,0.2,0.7,1.3,0.6,0.2,0.1,0.4,0.8,0.3,0.1,0.5,1.0,0.4,0.2, 1.1,7.8,1.7,0.6,0.2,0.1,0.4,0.9,0.4,0.2,1.3,6.4,1.2,0.5,0.2,0.1];
const rP27 = [0,0.1,0.2,0.5,0.8,1.2,0.6,0.3,0.7,1.0,1.6,0.7,0.3,0.1,0,0, 0.2,0.1,0,0,0,0.1,0,0,0,0,0,0.2,0.8,1.7,3.5,2.0, 1.2,0.6,0.3,0.1,0.5,1.0,0.4,0.2,0.1,0.6,1.3,0.6,0.2,0.1,0.4,0.8, 0.3,0.1,0.5,1.1,0.5,0.2,0.1,0.4,0.9,0.4,0.2,0.6,1.3,2.6,3.8,7.9];
const rP28 = [0,0.2,0.3,0.6,1.1,0.6,0.4,0.9,0.5,0.3,0.7,0.4,0.2,0,0.1,0, 0.1,0,0.2,0,0,0,0,0,0,0.1,0,0.3,1.0,2.0,1.4,2.6, 4.8,14.0,2.2,0.9,0.4,0.2,0.6,1.1,0.5,0.2,0.1,0.4,0.8,0.3,0.1,0.5, 1.1,0.5,0.2,0.1,0.3,0.7,0.3,0.1,0.5,1.0,0.4,0.2,0.1,0.3,0.6,0.2];
const rP29 = [0,0.1,0.3,0.4,0.9,0.6,1.1,0.5,0.3,0.6,0.9,0.4,0.2,0.1,0,0, 0,0.2,0.1,0,0,0,0,0,0.1,0,0.1,0.4,0.9,1.6,2.3,1.5, 0.8,0.4,0.2,0.5,1.0,0.5,0.2,0.1,0.6,1.2,0.5,0.2,0.4,1.5,8.0,1.6, 0.6,0.2,0.1,0.4,0.8,0.4,0.2,0.1,0.3,0.7,0.3,0.1,0.5,1.0,0.4,0.2];
const rP30 = [0,0.2,0.5,0.8,0.4,0.9,1.5,0.8,0.4,0.2,0.5,0.8,0.3,0.1,0,0.1, 0.2,0.1,0,0,0,0,0,0.1,0,0,0,0.3,0.8,1.9,2.8,1.7, 0.9,0.5,0.2,0.7,1.2,0.6,0.3,0.1,0.4,0.8,0.3,0.1,0.5,1.0,0.4,0.2, 0.1,0.4,0.9,0.4,0.2,1.5,3.4,1.2,6.2,1.8,0.6,0.2,0.1,0.4,0.8,0.3];

const tempMembers = [tP01,tP02,tP03,tP04,tP05,tP06,tP07,tP08,tP09,tP10,tP11,tP12,tP13,tP14,tP15,tP16,tP17,tP18,tP19,tP20,tP21,tP22,tP23,tP24,tP25,tP26,tP27,tP28,tP29,tP30];
const precMembers = [rP01,rP02,rP03,rP04,rP05,rP06,rP07,rP08,rP09,rP10,rP11,rP12,rP13,rP14,rP15,rP16,rP17,rP18,rP19,rP20,rP21,rP22,rP23,rP24,rP25,rP26,rP27,rP28,rP29,rP30];

// styling
const palette = ['#0b35b0','#1048b8','#1566b5','#1b8ec2','#17a3ad','#14a07c','#139f57','#14a83e','#1db42a','#16c916',
                 '#b5b516','#bfa116','#c99f15','#c98b15','#c97716','#bf6414','#b65114','#a23d16','#983426','#8c1f1f'];

function pairs(arr){ return arr.map((v,i)=>[hours[i], v]); }

const series = [];
memberNames.forEach((n,i)=>{
  const c = palette[i % 20];
  series.push({name:n,type:'line',xAxisIndex:0,yAxisIndex:0,data:pairs(tempMembers[i]),symbol:'none',silent:true,
    lineStyle:{width:1,color:c},itemStyle:{color:c},z:2});
  series.push({name:n,type:'line',xAxisIndex:0,yAxisIndex:1,data:pairs(precMembers[i]),symbol:'none',silent:true,
    lineStyle:{width:1,color:c},itemStyle:{color:c},z:2});
});
const thick = [
  ['Ens. mean', tempMean, precMean, '#ffffff'],
  ['Control', tempControl, precControl, '#0a14ff'],
  ['Oper', tempOper, precOper, '#14d214']
];
thick.forEach(([n,t,p,c])=>{
  series.push({name:n,type:'line',xAxisIndex:0,yAxisIndex:0,data:pairs(t),symbol:'none',silent:true,
    lineStyle:{width:3.5,color:c},itemStyle:{color:c},z:3});
  series.push({name:n,type:'line',xAxisIndex:0,yAxisIndex:1,data:pairs(p),symbol:'none',silent:true,
    lineStyle:{width:3.5,color:c},itemStyle:{color:c},z:3});
});
series.push({name:'1991-2020 mean',type:'line',xAxisIndex:0,yAxisIndex:0,data:pairs(tempClim),symbol:'none',silent:true,
  lineStyle:{width:3,color:'#ee3c3c'},itemStyle:{color:'#ee3c3c'},z:4});

const FONT = 'DejaVu Sans';
const legendBase = {orient:'vertical',icon:'rect',itemWidth:8,itemHeight:2,itemGap:2,selectedMode:false,padding:0,
  textStyle:{color:'#ffffff',fontSize:11,fontFamily:FONT,lineHeight:13}};
const col1 = [], col2 = [];
memberNames.forEach((n,i)=>{ (i%2===0?col1:col2).push(n); });
col1.push('Control'); col2.push('Ens. mean');

const option = {
  backgroundColor:'#000000',
  animation:false,
  textStyle:{fontFamily:FONT},
  title:{text:'Brussels  (BE)  850 hPa Temp. & Precipitation | Thu, 01Jan2026 00Z',left:133,top:2,padding:0,
    textStyle:{color:'#ffffff',fontSize:17.8,fontWeight:'bold',fontFamily:'DejaVu Sans Condensed, DejaVu Sans'}},
  legend:[
    Object.assign({},legendBase,{data:col1,left:-5,top:33.5}),
    Object.assign({},legendBase,{data:col2,left:51,top:33.5}),
    Object.assign({},legendBase,{data:['Oper'],left:-5,top:298.5}),
    Object.assign({},legendBase,{data:['1991-2020 mean'],left:51,top:289,
      formatter:()=>'1991-2020\nmean',textStyle:{color:'#ffffff',fontSize:11,fontFamily:FONT,lineHeight:10}})
  ],
  grid:{left:163,right:40,top:30,bottom:60,containLabel:false,outerBoundsMode:'none'},
  xAxis:[
    {type:'value',min:0,max:384,interval:24,position:'bottom',
     name:'Date (UTC)',nameLocation:'middle',nameGap:24,nameMoveOverlap:false,nameTextStyle:{color:'#ffffff',fontSize:10,fontFamily:FONT},
     axisLine:{show:true,onZero:false,lineStyle:{color:'#ffffff',width:1}},
     axisTick:{show:true,inside:true,length:4,lineStyle:{color:'#ffffff'}},
     axisLabel:{color:'#ffffff',fontSize:11,margin:7,fontFamily:FONT,
       formatter:(v)=> (v%48===0 ? xTickLabels[v/48] : '')},
     splitLine:{show:true,lineStyle:{color:'#4a4a4a',type:[4,4],width:1}}},
    {type:'value',min:0,max:384,interval:24,position:'top',
     axisLine:{show:true,onZero:false,lineStyle:{color:'#ffffff',width:1}},
     axisTick:{show:true,inside:true,length:4,lineStyle:{color:'#ffffff'}},
     axisLabel:{show:false},splitLine:{show:false}}
  ],
  yAxis:[
    {type:'value',min:-30,max:15,interval:5,position:'left',
     name:'850 hPa Temp. (°C)',nameLocation:'middle',nameGap:27,nameMoveOverlap:false,nameTextStyle:{color:'#ffffff',fontSize:10,fontFamily:FONT},
     axisLine:{show:true,onZero:false,lineStyle:{color:'#ffffff',width:1}},
     axisTick:{show:true,inside:false,length:3,lineStyle:{color:'#ffffff'}},
     axisLabel:{color:'#ffffff',fontSize:11,margin:7,fontFamily:FONT},
     splitLine:{show:true,lineStyle:{color:'#4a4a4a',type:[4,4],width:1}}},
    {type:'value',min:0,max:40,interval:10,position:'right',
     name:'Precipitation (mm)',nameLocation:'middle',nameGap:25,nameMoveOverlap:false,nameTextStyle:{color:'#ffffff',fontSize:10,fontFamily:FONT},
     axisLine:{show:true,onZero:false,lineStyle:{color:'#ffffff',width:1}},
     axisTick:{show:true,inside:true,length:6,lineStyle:{color:'#ffffff'}},
     minorTick:{show:true,splitNumber:10,length:4,lineStyle:{color:'#ffffff'}},
     axisLabel:{color:'#ffffff',fontSize:11,margin:8,fontFamily:FONT},
     splitLine:{show:false}}
  ],
  graphic:[
    {type:'text',left:120,top:589,style:{text:'GFS Ensemble, 51N, 4.5E',fill:'#e6e6e6',fontSize:16,fontFamily:FONT}},
    {type:'text',left:650,top:589,style:{text:'Wetterzentrale.de',fill:'#e6e6e6',fontSize:16,fontFamily:FONT}}
  ],
  series: series
};
const chart = echarts.init(document.getElementById('c'),null,{renderer:'canvas'});
chart.setOption(option);
</script></body></html>
